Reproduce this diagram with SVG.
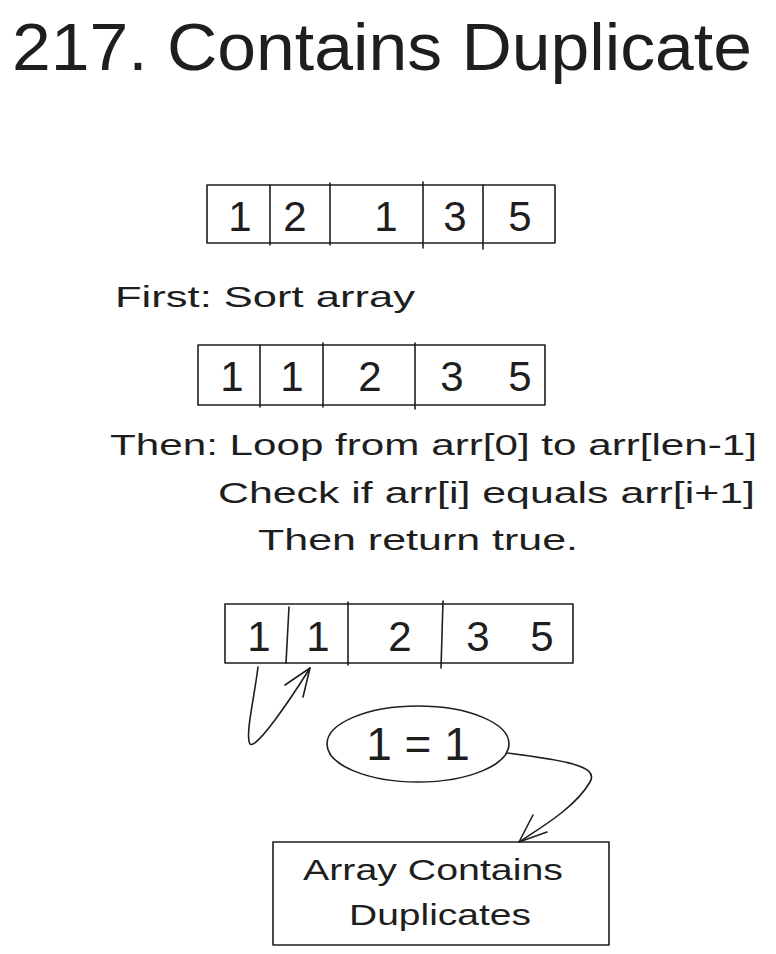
<svg xmlns="http://www.w3.org/2000/svg" width="776" height="954" viewBox="0 0 776 954">
<defs>
<style>
.box{fill:none;stroke:#1e1e1e;stroke-width:1.6;stroke-linejoin:round}
.ln{fill:none;stroke:#1e1e1e;stroke-width:1.6;stroke-linecap:round}
.t{font-family:"Liberation Sans",Arial,sans-serif;fill:#1e1e1e}
.title{font-size:66px}
.lbl{font-size:29px}
.dig{font-size:42px;text-anchor:middle}
.big{font-size:46px;text-anchor:middle}
.mid{text-anchor:middle}
</style>
</defs>
<rect width="776" height="954" fill="#ffffff"/>

<g id="title">
<text class="t title" x="12" y="70" textLength="740" lengthAdjust="spacingAndGlyphs">217. Contains Duplicate</text>
</g>

<g id="array-unsorted">
<rect class="box" x="207" y="185" width="348" height="58"/>
<line class="ln" x1="270" y1="185" x2="270" y2="245"/>
<line class="ln" x1="330" y1="183" x2="330" y2="245"/>
<line class="ln" x1="423" y1="182" x2="423" y2="248"/>
<line class="ln" x1="483" y1="185" x2="483" y2="249"/>
<text class="t dig" x="240" y="231">1</text>
<text class="t dig" x="295" y="231">2</text>
<text class="t dig" x="386" y="231">1</text>
<text class="t dig" x="455" y="231">3</text>
<text class="t dig" x="520" y="231">5</text>
</g>

<g id="label-sort">
<text class="t lbl" x="115" y="307" textLength="300" lengthAdjust="spacingAndGlyphs">First: Sort array</text>
</g>

<g id="array-sorted">
<rect class="box" x="198" y="345" width="347" height="60"/>
<line class="ln" x1="260" y1="345" x2="260" y2="407"/>
<line class="ln" x1="323" y1="343" x2="323" y2="407"/>
<line class="ln" x1="415" y1="343" x2="415" y2="409"/>
<text class="t dig" x="232" y="391">1</text>
<text class="t dig" x="292" y="391">1</text>
<text class="t dig" x="370" y="391">2</text>
<text class="t dig" x="452" y="391">3</text>
<text class="t dig" x="520" y="391">5</text>
</g>

<g id="label-steps">
<text class="t lbl" x="110" y="455" textLength="647" lengthAdjust="spacingAndGlyphs">Then: Loop from arr[0] to arr[len-1]</text>
<text class="t lbl" x="218" y="503" textLength="537" lengthAdjust="spacingAndGlyphs">Check if arr[i] equals arr[i+1]</text>
<text class="t lbl" x="258" y="550" textLength="320" lengthAdjust="spacingAndGlyphs">Then return true.</text>
</g>

<g id="array-check">
<rect class="box" x="225" y="604" width="348" height="59"/>
<line class="ln" x1="289" y1="607" x2="286" y2="663"/>
<line class="ln" x1="348" y1="602" x2="348" y2="665"/>
<line class="ln" x1="443" y1="601" x2="441" y2="668"/>
<text class="t dig" x="259" y="651">1</text>
<text class="t dig" x="318" y="651">1</text>
<text class="t dig" x="400" y="651">2</text>
<text class="t dig" x="478" y="651">3</text>
<text class="t dig" x="542" y="651">5</text>
</g>

<g id="compare">
<ellipse class="box" cx="418" cy="744" rx="91" ry="38"/>
<text class="t big" x="418" y="760">1 = 1</text>
</g>

<g id="result">
<rect class="box" x="273" y="842" width="336" height="103"/>
<text class="t lbl mid" x="433" y="880" textLength="260" lengthAdjust="spacingAndGlyphs">Array Contains</text>
<text class="t lbl mid" x="440" y="925" textLength="182" lengthAdjust="spacingAndGlyphs">Duplicates</text>
</g>

<g id="connectors">
<path class="ln" d="M258 667 C254 700 245 735 250 744 C256 750 290 700 310 668"/>
<path class="ln" d="M310 668 L285 685 M310 668 L303 697"/>
<path class="ln" d="M507 753 C560 760 600 765 590 782 C575 808 540 828 519 842"/>
<path class="ln" d="M519 842 L533 815 M519 842 L547 832"/>
</g>
</svg>
